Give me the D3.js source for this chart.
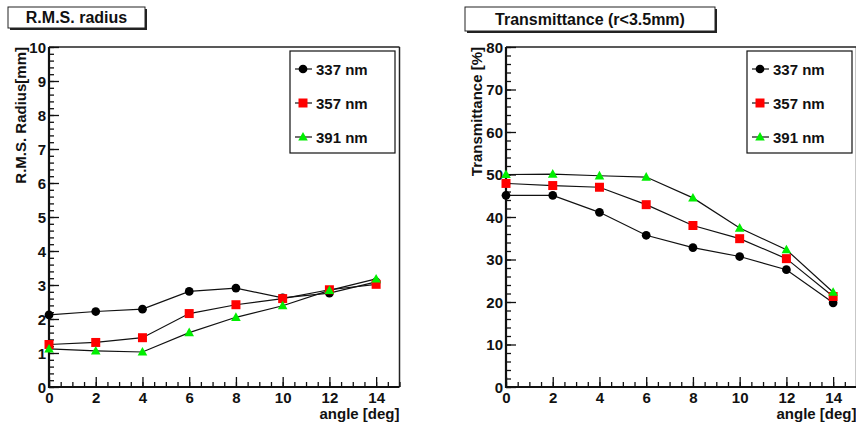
<!DOCTYPE html>
<html><head><meta charset="utf-8">
<script src="https://cdn.jsdelivr.net/npm/d3@7"></script>
<style>
html,body{margin:0;padding:0;background:#fff;}
text{font-family:"Liberation Sans",Arial,Helvetica,sans-serif;font-weight:bold;fill:#111;}
</style></head>
<body><svg id="c" width="856" height="423"></svg>
<script>
const angles = [0, 2, 4, 6, 8, 10, 12, 14];
const seriesNames = ["337 nm", "357 nm", "391 nm"];
const seriesColors = ["#000000", "#ff0000", "#00ee00"];
const seriesMarkers = ["circle", "square", "triangle"];
// R.M.S. radius [mm]
const rms337 = [2.12, 2.22, 2.29, 2.81, 2.91, 2.62, 2.76, 3.09];
const rms357 = [1.25, 1.31, 1.45, 2.16, 2.42, 2.60, 2.86, 3.02];
const rms391 = [1.12, 1.06, 1.03, 1.60, 2.05, 2.39, 2.84, 3.18];
// Transmittance (r<3.5mm) [%]
const tr337 = [45.1, 45.1, 41.1, 35.7, 32.8, 30.7, 27.6, 19.8];
const tr357 = [47.9, 47.4, 47.0, 42.9, 38.0, 34.9, 30.2, 21.3];
const tr391 = [50.0, 50.1, 49.7, 49.4, 44.5, 37.4, 32.3, 22.3];
const xTicks = [0, 2, 4, 6, 8, 10, 12, 14];
const rmsTicks = [0, 1, 2, 3, 4, 5, 6, 7, 8, 9, 10];
const trTicks = [0, 10, 20, 30, 40, 50, 60, 70, 80];

const svg = d3.select("#c");

function markerPath(type) {
  if (type === "circle") return d3.symbol(d3.symbolCircle, 60)();
  if (type === "square") return "M-4.5,-4.5H4.5V4.5H-4.5Z";
  return "M0,-5L4.8,3.6H-4.8Z";
}

function panel(opt) {
  const g = svg.append("g");
  const x = d3.scaleLinear().domain([0, 15]).range([opt.left, opt.left + 350.5]);
  const y = d3.scaleLinear().domain(opt.yDomain).range([387, 47]);

  // title box with shadow
  const tb = opt.titleBox;
  g.append("rect").attr("x", tb[0] + 2).attr("y", tb[1] + 2).attr("width", tb[2]).attr("height", tb[3]).attr("fill", "#222");
  g.append("rect").attr("x", tb[0]).attr("y", tb[1]).attr("width", tb[2]).attr("height", tb[3]).attr("fill", "#fff").attr("stroke", "#222").attr("stroke-width", 1);
  g.append("text").attr("x", tb[0] + tb[2] / 2).attr("y", tb[1] + tb[3] / 2 + 5.5).attr("text-anchor", "middle").style("font-size", "16px").text(opt.title);

  // frame top/right
  g.append("line").attr("x1", x(0)).attr("x2", x(15)).attr("y1", y.range()[1]).attr("y2", y.range()[1]).attr("stroke", "#222").attr("stroke-width", 1.5);
  g.append("line").attr("x1", x(15)).attr("x2", x(15)).attr("y1", 47).attr("y2", 387).attr("stroke", "#222").attr("stroke-width", 1.5);

  // x axis minor & major
  const xMinor = d3.range(0, 15.01, 0.5);
  g.append("g").attr("transform", "translate(0,387)")
    .call(d3.axisBottom(x).tickValues(xMinor).tickSize(-5).tickFormat(""))
    .call(a => a.select(".domain").remove());
  const xa = g.append("g").attr("transform", "translate(0,387)")
    .call(d3.axisBottom(x).tickValues(xTicks).tickSize(-10).tickPadding(5).tickFormat(d3.format("d")));
  xa.select(".domain").remove();
  xa.selectAll("text").style("font-size", "15px").attr("dy", "0.72em");
  g.append("line").attr("x1", x(0) - 1).attr("x2", x(15)).attr("y1", 387).attr("y2", 387).attr("stroke", "#111").attr("stroke-width", 2.2);

  // y axis
  const yMinor = d3.range(opt.yDomain[0], opt.yDomain[1] + 1e-6, opt.yMinorStep);
  g.append("g").attr("transform", `translate(${x(0)},0)`)
    .call(d3.axisLeft(y).tickValues(yMinor).tickSize(-5).tickFormat(""))
    .call(a => a.select(".domain").remove());
  const ya = g.append("g").attr("transform", `translate(${x(0)},0)`)
    .call(d3.axisLeft(y).tickValues(opt.yTicks).tickSize(-10).tickPadding(3).tickFormat(d3.format("d")));
  ya.select(".domain").remove();
  ya.selectAll("text").style("font-size", "15px").attr("dy", "0.36em");
  g.selectAll(".tick line").attr("stroke", "#111").attr("stroke-width", 1.3);
  g.append("line").attr("x1", x(0)).attr("x2", x(0)).attr("y1", 47).attr("y2", 388).attr("stroke", "#111").attr("stroke-width", 2.2);

  // axis titles
  g.append("text").attr("x", x(15)).attr("y", 419).attr("text-anchor", "end").style("font-size", "15px").text("angle [deg]");
  g.append("text").attr("transform", `translate(${opt.yTitleX},47) rotate(-90)`).attr("text-anchor", "end").style("font-size", "15px").text(opt.yTitle);

  // series
  const line = d3.line().x((d, i) => x(angles[i])).y(d => y(d));
  opt.series.forEach((vals, s) => {
    g.append("path").attr("d", line(vals)).attr("fill", "none").attr("stroke", "#111").attr("stroke-width", 1.2);
  });
  opt.series.forEach((vals, s) => {
    g.selectAll(null).data(vals).enter().append("path")
      .attr("transform", (d, i) => `translate(${x(angles[i])},${y(d)})`)
      .attr("d", markerPath(seriesMarkers[s]))
      .attr("fill", seriesColors[s]);
  });

  // legend
  const lb = opt.legendBox;
  g.append("rect").attr("x", lb[0]).attr("y", lb[1]).attr("width", lb[2]).attr("height", lb[3]).attr("fill", "#fff").attr("stroke", "#111").attr("stroke-width", 1.2);
  seriesNames.forEach((name, s) => {
    const cy = lb[1] + 18 + s * 34;
    const mx = lb[0] + 13;
    g.append("line").attr("x1", lb[0] + 5).attr("x2", lb[0] + 22).attr("y1", cy).attr("y2", cy).attr("stroke", "#111").attr("stroke-width", 1.2);
    g.append("path").attr("transform", `translate(${mx},${cy})`).attr("d", markerPath(seriesMarkers[s])).attr("fill", seriesColors[s]);
    g.append("text").attr("x", lb[0] + 26).attr("y", cy + 5.5).style("font-size", "15px").text(name);
  });
}

panel({
  left: 49, yDomain: [0, 10], yTicks: rmsTicks, yMinorStep: 0.2,
  title: "R.M.S. radius", titleBox: [8, 7, 137, 21],
  yTitle: "R.M.S. Radius[mm]", yTitleX: 26,
  series: [rms337, rms357, rms391],
  legendBox: [290, 51, 105, 102]
});
panel({
  left: 506, yDomain: [0, 80], yTicks: trTicks, yMinorStep: 2,
  title: "Transmittance (r<3.5mm)", titleBox: [465, 7, 250, 24],
  yTitle: "Transmittance [%]", yTitleX: 482,
  series: [tr337, tr357, tr391],
  legendBox: [747, 51, 105, 102]
});
</script></body></html>
